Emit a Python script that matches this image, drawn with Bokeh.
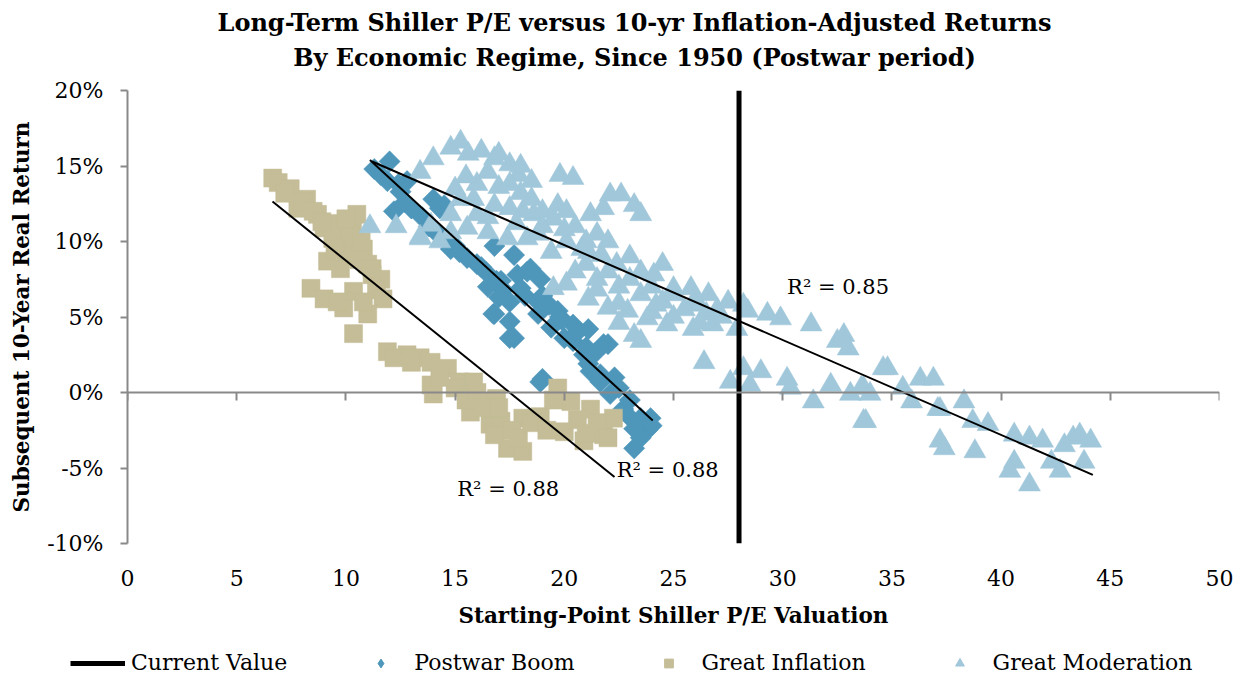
import numpy as np
from bokeh.plotting import figure
from bokeh.models import (Range1d, LinearAxis, FixedTicker, PrintfTickFormatter, Label,
                          Legend, LegendItem, CustomJSTickFormatter)
from bokeh.embed import file_html
from bokeh.resources import INLINE

# ---------------- data ----------------
x_ticks = [0, 5, 10, 15, 20, 25, 30, 35, 40, 45, 50]
y_ticks = [-10, -5, 0, 5, 10, 15, 20]

title_lines = ["Long-Term Shiller P/E versus 10-yr Inflation-Adjusted Returns",
               "By Economic Regime, Since 1950 (Postwar period)"]

current_pe = 28.0

postwar_pe = [11.3, 12.0, 11.9, 12.5, 12.2, 13.0, 12.7, 12.8, 13.0, 14.0, 14.5, 14.3, 14.65, 14.8,
              15.0, 15.55, 16.0, 16.2, 16.8, 16.9, 17.7, 17.85, 18.45, 18.3, 18.9, 17.1, 17.2,
              16.75, 16.8, 17.5, 17.7, 17.5, 17.5, 18.2, 18.8, 18.8, 19.4, 19.7, 19.8, 20.0,
              20.4, 20.4, 21.1, 20.9, 21.8, 22.0, 21.2, 21.1, 21.65, 21.65, 18.9, 19.0, 22.1,
              22.7, 23.5, 23.95, 23.2, 23.2,
              11.6, 12.4, 13.5, 13.8, 14.2, 15.2, 16.4, 16.5, 17.0, 18.0, 19.0, 19.3, 19.9,
              20.6, 21.0, 21.4, 22.3, 22.5, 23.0, 23.8, 24.0, 23.5, 22.9]
postwar_ret = [14.8, 15.3, 14.0, 13.3, 12.0, 12.2, 12.6, 14.0, 12.2, 12.8, 12.4, 12.2, 10.0, 9.5,
               9.7, 8.9, 8.5, 8.3, 9.7, 7.4, 9.1, 7.8, 8.2, 8.0, 7.5, 7.4, 6.8,
               5.2, 5.2, 4.7, 3.6, 3.6, 6.0, 6.4, 6.0, 5.2, 4.3, 5.4, 5.0, 3.6,
               3.4, 4.5, 4.2, 2.5, 3.2, 3.2, 1.4, 1.9, 0.7, 1.2, 0.7, 0.9, -0.1,
               -1.1, -1.7, -1.7, -2.4, -3.7,
               14.4, 13.8, 11.6, 11.0, 10.5, 9.3, 8.0, 7.0, 6.3, 6.9, 6.4, 5.8, 4.8,
               4.0, 3.0, 2.6, 1.0, 0.3, -0.5, -2.5, -2.2, -3.0, -1.5]

inflation_pe = [6.65, 6.9, 7.45, 7.8, 8.2, 8.7, 9.0, 10.5, 10.3, 9.4, 10.0, 10.0, 9.16, 9.75,
                10.8, 11.0, 11.2, 11.6, 11.4, 11.7, 8.4, 9.0, 9.9, 10.35, 10.35, 11.0, 11.9,
                12.8, 13.4, 13.9, 14.65, 13.9, 14.0, 15.2, 15.85, 15.7, 16.2, 16.6, 17.1, 17.4,
                16.9, 18.1, 18.1, 18.9, 19.7, 20.3, 20.0, 21.2, 21.7, 21.8, 22.25, 20.9,
                7.2, 8.0, 8.5, 9.2, 9.6, 10.2, 10.7, 10.6, 11.2, 9.5, 8.9, 10.0, 9.6, 10.8,
                12.2, 13.0, 14.3, 15.0, 15.5, 16.3, 16.0, 17.0, 17.6, 17.9, 16.8, 18.5, 19.2,
                19.5, 20.6, 21.5, 22.0, 21.0]
inflation_ret = [14.2, 13.9, 13.5, 12.2, 12.8, 11.8, 10.9, 11.8, 11.0, 10.2, 10.0, 9.0, 8.7, 8.2,
                 9.5, 8.5, 7.8, 7.5, 6.8, 6.2, 6.9, 6.2, 5.6, 6.7, 3.9, 5.2, 2.7,
                 2.5, 2.3, 2.0, 1.6, 0.5, -0.1, 0.7, 0.7, -1.3, -0.6, -2.1, -1.9, -3.7,
                 -0.4, -1.7, -3.9, -1.6, 0.3, -0.6, -2.6, -1.1, -2.3, -2.8, -1.7, -3.2,
                 13.2, 12.6, 12.0, 11.2, 10.6, 10.4, 10.0, 8.8, 8.2, 9.5, 11.3, 11.5, 6.0, 6.0,
                 2.3, 2.0, 1.0, 0.3, -0.5, -1.0, 0.0, -1.0, -2.5, -3.0, -2.8, -2.0, -2.5,
                 -0.5, -1.8, -2.0, -3.0, -2.7]

moderation_pe = [11.1, 12.3, 13.4, 14.3, 13.9, 13.4, 14.8, 15.55, 16.5, 17.4, 18.3,
                 14.0, 14.8, 15.25, 15.6, 16.2, 16.8, 17.5, 13.4, 17.9, 19.8, 20.4,
                 22.1, 22.6, 23.2, 23.5, 19.7, 20.1, 21.2, 18.6, 18.1, 15.85, 15.25, 16.8, 17.5,
                 19.4, 20.1, 21.1, 21.7, 22.4, 23.5, 24.1, 25.0, 25.8, 26.6, 27.5, 28.2,
                 19.5, 20.1, 21.1, 22.0, 22.9, 23.8, 24.7, 25.9, 26.8, 27.9, 23.2, 23.5,
                 26.4, 27.6, 28.2, 29.0, 28.5, 30.2, 30.35, 31.4, 32.2, 33.1, 33.7, 33.7,
                 34.8, 35.5, 35.9, 36.3, 36.9, 37.2, 37.2, 28.4, 29.3, 29.9, 31.3, 32.5,
                 32.8, 33.0, 34.6, 33.6, 34.0, 33.8, 37.1, 37.4, 38.3, 38.7, 39.4, 38.8,
                 40.6, 41.3, 40.6, 40.4, 41.3, 41.9, 42.3, 42.7, 42.9, 43.3, 43.6, 44.1, 43.8,
                 15.0, 16.0, 17.0, 18.0, 18.5, 19.0, 20.5, 21.5, 22.0, 23.0, 24.5,
                 20.5, 21.5, 22.5, 23.5, 24.5, 25.5, 26.5, 27.2, 26.0, 24.0, 22.5,
                 16.5, 17.8, 19.0, 20.0, 21.0, 15.5, 16.5, 17.5, 18.5,
                 21.0, 22.0, 23.0, 24.0, 25.0, 26.0, 27.0, 25.0, 26.2, 21.5, 22.5, 24.2,
                 20.8, 18.8, 19.5, 21.8, 16.0, 14.8, 17.0, 18.0]
moderation_ret = [11.0, 11.0, 10.3, 10.0, 11.1, 10.2, 10.6, 10.9, 10.6, 10.2, 10.2,
                  15.5, 16.2, 16.6, 15.8, 16.0, 15.5, 15.1, 14.6, 14.4, 14.4, 14.2,
                  13.1, 13.1, 12.4, 11.8, 12.4, 12.0, 11.8, 11.8, 12.0, 12.8, 12.8, 12.4, 12.2,
                  9.3, 10.0, 9.3, 9.1, 8.5, 8.0, 7.8, 6.9, 6.9, 6.5, 6.0, 5.8,
                  6.9, 7.2, 6.2, 5.6, 5.4, 4.9, 4.5, 4.2, 4.5, 4.2, 3.8, 3.4,
                  2.0, 0.7, 1.6, 1.4, 0.5, 0.9, 0.3, -0.6, 0.5, -0.1, 0.3, -1.9,
                  1.6, 0.3, -0.6, 0.9, 0.9, -1.1, -3.2, 5.4, 5.2, 4.9, 4.5, 3.4,
                  3.8, 2.9, 1.6, 0.3, -0.1, -1.9, -1.1, -3.7, -0.6, -1.9, -2.1, -3.9,
                  -2.8, -3.0, -4.6, -5.2, -6.1, -3.2, -4.6, -5.2, -3.5, -3.0, -2.8, -3.2, -4.6,
                  13.5, 13.8, 13.6, 13.2, 12.8, 12.0, 11.0, 10.5, 10.0, 9.0, 8.5,
                  8.0, 7.5, 7.0, 6.5, 6.0, 5.5, 5.2, 5.0, 5.8, 5.3, 4.6,
                  11.6, 11.2, 11.0, 10.8, 10.0, 14.3, 14.6, 13.8, 14.0,
                  8.5, 8.0, 7.5, 7.0, 6.5, 6.2, 5.5, 5.0, 4.6, 6.8, 5.9, 5.8,
                  9.5, 10.5, 11.5, 12.2, 11.8, 11.8, 15.8, 15.0]

# trend-line end points
postwar_trend_x = [11.1, 24.05]
postwar_trend_y = [15.4, -1.85]
inflation_trend_x = [6.64, 22.3]
inflation_trend_y = [12.65, -5.6]
moderation_trend_x = [11.2, 44.2]
moderation_trend_y = [15.3, -5.45]

r2_labels = ["R\u00b2 = 0.85", "R\u00b2 = 0.88", "R\u00b2 = 0.88"]
r2_x = [30.2, 22.4, 15.1]
r2_y = [7.0, -5.1, -6.4]

legend_labels = ["Current Value", "Postwar Boom", "Great Inflation", "Great Moderation"]

# ---------------- styling ----------------
SERIF = "DejaVu Serif"
AXIS_GRAY = "#898989"
C_POSTWAR = "#4E97BB"
C_INFL = "#C4BD97"
C_MOD = "#A0C7DA"
W = 1243


def bare(fig):
    fig.grid.visible = False
    fig.outline_line_color = None
    fig.background_fill_color = "white"
    fig.border_fill_color = "white"


# ---------------- title strip ----------------
tf = figure(width=W, height=75, output_backend="svg", toolbar_location=None,
            x_range=Range1d(0, 1), y_range=Range1d(0, 1), min_border=0,
            min_border_left=0, min_border_right=0, min_border_top=0, min_border_bottom=0,
            x_axis_location=None, y_axis_location=None)
bare(tf)
for txt, ty in zip(title_lines, [53, 18]):
    tf.add_layout(Label(x=634, y=ty, x_units="screen", y_units="screen", text=txt,
                        text_font=SERIF, text_font_style="bold", text_font_size="24px",
                        text_align="center", text_baseline="middle", text_color="black"))

# ---------------- main chart ----------------
p = figure(frame_width=1092, frame_height=453, output_backend="svg", toolbar_location=None,
           x_range=Range1d(0, 50), y_range=Range1d(-10, 20),
           min_border_left=127, min_border_right=24, min_border_top=15, min_border_bottom=96,
           x_axis_location=None, y_axis_location=None)
bare(p)

yax = LinearAxis(ticker=FixedTicker(ticks=y_ticks), formatter=PrintfTickFormatter(format="%d%%"),
                 axis_label="Subsequent 10-Year Real Return")
yax.axis_line_color = AXIS_GRAY
yax.axis_line_width = 2
yax.major_tick_line_color = AXIS_GRAY
yax.major_tick_line_width = 2
yax.major_tick_in = 0
yax.major_tick_out = 7
yax.minor_tick_line_color = None
yax.major_label_text_font = SERIF
yax.major_label_text_font_size = "22px"
yax.major_label_text_color = "black"
yax.major_label_standoff = 17
yax.axis_label_text_font = SERIF
yax.axis_label_text_font_style = "bold"
yax.axis_label_text_font_size = "21.5px"
yax.axis_label_text_color = "black"
yax.axis_label_standoff = 10
p.add_layout(yax, "left")

# axis line at y = 0 with ticks (no labels)
zax = LinearAxis(ticker=FixedTicker(ticks=x_ticks), fixed_location=0,
                 formatter=CustomJSTickFormatter(code="return ''"))
zax.axis_line_color = AXIS_GRAY
zax.axis_line_width = 2
zax.major_tick_line_color = AXIS_GRAY
zax.major_tick_line_width = 2
zax.major_tick_in = 0
zax.major_tick_out = 8
zax.minor_tick_line_color = None
p.add_layout(zax, "below")

# bottom labels only
xax = LinearAxis(ticker=FixedTicker(ticks=x_ticks), axis_label="Starting-Point Shiller P/E Valuation")
xax.axis_line_color = None
xax.major_tick_line_color = None
xax.minor_tick_line_color = None
xax.major_tick_in = 0
xax.major_tick_out = 0
xax.major_label_text_font = SERIF
xax.major_label_text_font_size = "22px"
xax.major_label_text_color = "black"
xax.major_label_standoff = 26
xax.axis_label_text_font = SERIF
xax.axis_label_text_font_style = "bold"
xax.axis_label_text_font_size = "21.5px"
xax.axis_label_text_color = "black"
xax.axis_label_standoff = 14
p.add_layout(xax, "below")

p.scatter(postwar_pe, postwar_ret, marker="square", angle=np.pi / 4, size=15,
          fill_color=C_POSTWAR, line_color=C_POSTWAR, line_width=0.5)
p.scatter(inflation_pe, inflation_ret, marker="square", size=18,
          fill_color=C_INFL, line_color=C_INFL, line_width=0.5)
p.scatter(moderation_pe, moderation_ret, marker="triangle", size=22,
          fill_color=C_MOD, line_color=C_MOD, line_width=0.5)

p.line(postwar_trend_x, postwar_trend_y, line_color="black", line_width=2)
p.line(inflation_trend_x, inflation_trend_y, line_color="black", line_width=2)
p.line(moderation_trend_x, moderation_trend_y, line_color="black", line_width=2)

p.line([current_pe, current_pe], [y_ticks[0], y_ticks[-1]], line_color="black", line_width=5)

for txt, lx, ly in zip(r2_labels, r2_x, r2_y):
    p.add_layout(Label(x=lx, y=ly, text=txt, text_font=SERIF, text_font_size="21px",
                       text_baseline="middle", text_align="left", text_color="black"))

# ---------------- legend strip ----------------
lf = figure(width=W, height=40, output_backend="svg", toolbar_location=None,
            x_range=Range1d(1000, 1001), y_range=Range1d(1000, 1001), min_border=0,
            min_border_left=0, min_border_right=0, min_border_top=0, min_border_bottom=0,
            x_axis_location=None, y_axis_location=None)
bare(lf)
l_cur = lf.line([current_pe, current_pe], [y_ticks[0], y_ticks[-1]], line_color="black", line_width=5)
l_pw = lf.scatter(postwar_pe, postwar_ret, marker="diamond", size=15,
                  fill_color=C_POSTWAR, line_color=C_POSTWAR)
l_gi = lf.scatter(inflation_pe, inflation_ret, marker="square", size=18,
                  fill_color=C_INFL, line_color=C_INFL)
l_gm = lf.scatter(moderation_pe, moderation_ret, marker="triangle", size=22,
                  fill_color=C_MOD, line_color=C_MOD)

legend = Legend(items=[LegendItem(label=lab, renderers=[r])
                       for lab, r in zip(legend_labels, [l_cur, l_pw, l_gi, l_gm])],
                orientation="horizontal", location=(70, 4))
legend.label_text_font = SERIF
legend.label_text_font_size = "22px"
legend.label_text_color = "black"
legend.glyph_width = 55
legend.glyph_height = 22
legend.label_height = 22
legend.label_standoff = 6
legend.spacing = 66
legend.border_line_color = None
legend.background_fill_alpha = 0
legend.padding = 0
legend.margin = 0
lf.add_layout(legend)

open("out.html", "w").write(file_html([tf, p, lf], INLINE))
